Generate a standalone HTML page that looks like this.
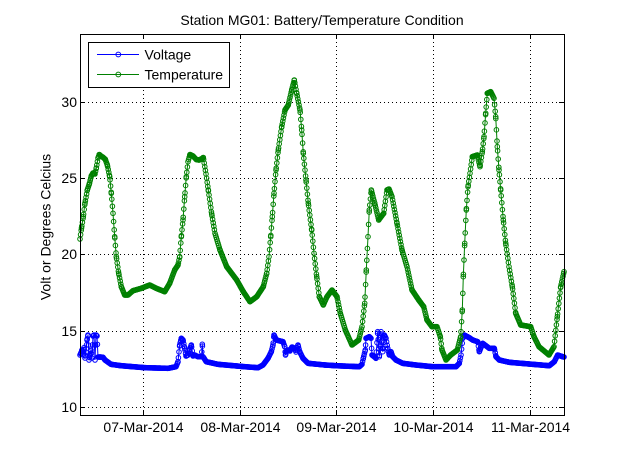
<!DOCTYPE html>
<html><head><meta charset="utf-8">
<style>
html,body{margin:0;padding:0;background:#fff;}
svg{display:block;font-family:"Liberation Sans",Arial,sans-serif;}
</style></head>
<body>
<svg id="s" width="623" height="466" viewBox="0 0 623 466" xmlns="http://www.w3.org/2000/svg">
<rect x="0" y="0" width="623" height="466" fill="#fff"/>
<rect x="80" y="34" width="484" height="381" fill="#fff"/>
<g stroke="#000" stroke-width="1" stroke-dasharray="1,3" fill="none" shape-rendering="crispEdges">
<line x1="80" y1="407.5" x2="564" y2="407.5"/>
<line x1="80" y1="331.5" x2="564" y2="331.5"/>
<line x1="80" y1="254.5" x2="564" y2="254.5"/>
<line x1="80" y1="178.5" x2="564" y2="178.5"/>
<line x1="80" y1="102.5" x2="564" y2="102.5"/>
<line x1="143.5" y1="34" x2="143.5" y2="415"/>
<line x1="240.5" y1="34" x2="240.5" y2="415"/>
<line x1="336.5" y1="34" x2="336.5" y2="415"/>
<line x1="433.5" y1="34" x2="433.5" y2="415"/>
<line x1="530.5" y1="34" x2="530.5" y2="415"/>
</g>
<g id="data"></g>
<g stroke="#000" stroke-width="1" fill="none" shape-rendering="crispEdges">
<rect x="80.5" y="34.5" width="484" height="381"/>
<path d="M80 407.5h5M80 331.5h5M80 254.5h5M80 178.5h5M80 102.5h5M564 407.5h-5M564 331.5h-5M564 254.5h-5M564 178.5h-5M564 102.5h-5M143.5 415v-5M240.5 415v-5M336.5 415v-5M433.5 415v-5M530.5 415v-5M143.5 34v5M240.5 34v5M336.5 34v5M433.5 34v5M530.5 34v5"/>
</g>
<g font-size="14" fill="#000">
<text x="322" y="25" text-anchor="middle">Station MG01: Battery/Temperature Condition</text>
<text x="77" y="412" text-anchor="end">10</text>
<text x="77" y="336" text-anchor="end">15</text>
<text x="77" y="259" text-anchor="end">20</text>
<text x="77" y="183" text-anchor="end">25</text>
<text x="77" y="107" text-anchor="end">30</text>
<text x="143.5" y="432" text-anchor="middle">07-Mar-2014</text>
<text x="240.5" y="432" text-anchor="middle">08-Mar-2014</text>
<text x="336.5" y="432" text-anchor="middle">09-Mar-2014</text>
<text x="433.5" y="432" text-anchor="middle">10-Mar-2014</text>
<text x="530.5" y="432" text-anchor="middle">11-Mar-2014</text>
<text transform="translate(50.5,227) rotate(-90)" text-anchor="middle">Volt or Degrees Celcius</text>
</g>
<g>
<rect x="88.5" y="42.5" width="141" height="45" fill="#fff" stroke="#000" stroke-width="1" shape-rendering="crispEdges"/>
<line x1="97" y1="54.5" x2="139" y2="54.5" stroke="#0000ff" stroke-width="1"/>
<circle cx="118.3" cy="54.5" r="2.4" fill="none" stroke="#0000ff" stroke-width="1"/>
<line x1="97" y1="74.5" x2="139" y2="74.5" stroke="#008000" stroke-width="1"/>
<circle cx="118.3" cy="74.5" r="2.4" fill="none" stroke="#008000" stroke-width="1"/>
<text x="144.5" y="59.5" font-size="14">Voltage</text>
<text x="144.5" y="79.5" font-size="14">Temperature</text>
</g>
</svg>
<script>
(function(){
var T=[[80,239],[81.5,228],[83.3,216.7],[85,203],[87.3,190],[89.3,184],[91.3,176],[93,173],[95,174],[96.3,168],[98,158],[99.3,154.5],[101,156],[103,157.3],[105.3,159.3],[107.3,165],[109.7,176.7],[111.3,193.3],[113,213.3],[114.7,236.7],[116.3,256.7],[118.7,273.3],[121.3,286.7],[124.7,295],[128,295],[133,290.7],[141.3,288.3],[149.7,285],[156.3,288.3],[164.7,291.7],[169.7,283.3],[174.7,270],[178,265],[179.7,256.7],[181.3,236.7],[183,220],[184.7,196.7],[186.3,176.7],[188,161.7],[190,154.5],[193,156],[196.3,159.5],[199,160],[201.3,159],[203.3,157.5],[206,174],[208.3,190],[211.7,214],[215,233.3],[220,250],[226.7,266.7],[236.7,280],[243.3,291.7],[250,301.7],[256.7,296.7],[263.3,286.7],[266.7,273.3],[269,256.7],[270.7,236.7],[272.3,216.7],[274,193.3],[276,170],[278.3,150],[281.7,126.7],[285,110],[288.3,105],[291.7,90],[294.3,80],[296.7,93.3],[300,110],[301.7,130],[303.3,153.3],[306,180],[308.3,203.3],[311.7,230],[314,253.3],[316.7,276.7],[319.3,296.7],[323.3,305],[327,296.7],[332,290],[337,296.7],[340.3,313.3],[345.3,330],[352,345],[358.7,340],[362,326.7],[364.7,303.3],[366.3,270],[368,236.7],[369.3,210],[371.3,190],[374.7,203.3],[378.7,220],[383.7,213.3],[387,190],[389,189],[392,196.7],[397,223.3],[402,250],[407,266.7],[412,290],[418.7,300],[423.7,306.7],[427,320],[432,326.7],[437,326.7],[440.3,336.7],[442,350],[446,360],[450.7,355],[457.3,350],[460.7,336.7],[462.3,310],[463.3,276.7],[464.7,243.3],[466.3,210],[468,186.7],[470,173.3],[472.3,156.7],[477.3,155],[480,166.7],[482.3,151.7],[484,136.7],[485.7,113.3],[487.3,93.3],[490.7,91.7],[494,98.3],[495.7,116.7],[497.3,146.7],[499,170],[500.7,190],[503.3,220],[505.7,243.3],[509,266.7],[512.3,286.7],[515.7,313.3],[520.7,325],[530.7,326.7],[534,336.7],[539,346.7],[549,355],[554,346.7],[557.3,316.7],[560.7,286.7],[564,271.7]];
var V=[[80,355],[81,353],[82,350],[83,352],[84,347.7],[85,358],[86,352],[87,340],[88,335],[89,360],[90,356],[91,350],[92,358],[93,336],[94,335],[95,360],[96,335],[97,336],[98,357],[100,357],[103,357.3],[105,360],[111,364.3],[121,365.7],[145,367.7],[168,368.3],[176,366.7],[178,361.7],[179.7,345],[181.3,338.3],[183,340],[184.7,348.3],[186,356],[188,355],[189.5,350],[191.3,345],[193,356],[194.7,355],[198,356.7],[201.5,356.5],[202.3,344.3],[203,356.7],[206.3,361.7],[218,364.3],[244.7,366.7],[258,367.7],[263,365],[268,358.3],[271.3,351.7],[273,345],[274,335],[276.3,340],[283,341.7],[284.7,346.7],[285.5,355],[286.3,352],[288,350],[290,351],[292,347],[294.7,348.3],[296,352],[298,345],[299.7,351.7],[303,358.3],[308,363.3],[325,365],[336,365.7],[359.3,366.7],[362,364.3],[363.3,358.3],[365.3,350],[366,338.3],[369.3,336.7],[371,338.3],[372,355],[374.3,356.7],[376,358.3],[377.7,331.7],[379.3,356.7],[381,331.7],[382.7,351.7],[384.3,335],[386,338.3],[387.7,348.3],[389.3,355],[391,351.7],[392.7,356.7],[396,360],[402.7,363.3],[416,365],[432.7,366.7],[456,366.7],[459.3,363.3],[461,355],[462.7,338.3],[464.3,335],[469.3,337.7],[472.7,340],[477.7,341.7],[479.3,351.7],[482.7,343.3],[489.3,348.3],[494.3,348.3],[496,356.7],[499.3,360],[509.3,362.3],[532.7,364.3],[549.3,365.7],[554.3,361.7],[557.7,355],[562.7,356.7],[564,357]];
function interp(p,x){for(var i=0;i<p.length-1;i++){if(x>=p[i][0]&&x<=p[i+1][0]){var a=p[i],b=p[i+1];var t=(b[0]-a[0])?(x-a[0])/(b[0]-a[0]):0;return a[1]+t*(b[1]-a[1]);}}return p[p.length-1][1];}
function series(p,col){
var xs={};for(var x=80;x<=564.01;x+=0.6){xs[x.toFixed(2)]=1;}
p.forEach(function(q){xs[q[0].toFixed(2)]=1;});
var arr=Object.keys(xs).map(Number).sort(function(a,b){return a-b;});
var pts=p.map(function(q){return q[0]+','+q[1];}).join(' ');
var s='<polyline points="'+pts+'" fill="none" stroke="'+col+'" stroke-width="1"/>';
s+='<g fill="none" stroke="'+col+'" stroke-width="1">';
arr.forEach(function(x){var y=interp(p,x);s+='<circle cx="'+x.toFixed(2)+'" cy="'+y.toFixed(2)+'" r="2.3"/>';});
s+='</g>';return s;}
var g=document.getElementById('data');
var html=series(V,'#0000ff')+series(T,'#008000');
var ns='http://www.w3.org/2000/svg';
var tmp=new DOMParser().parseFromString('<svg xmlns="'+ns+'">'+html+'</svg>','image/svg+xml');
var kids=tmp.documentElement.childNodes;
for(var i=0;i<kids.length;i++){g.appendChild(document.importNode(kids[i],true));}
})();
</script>
</body></html>
